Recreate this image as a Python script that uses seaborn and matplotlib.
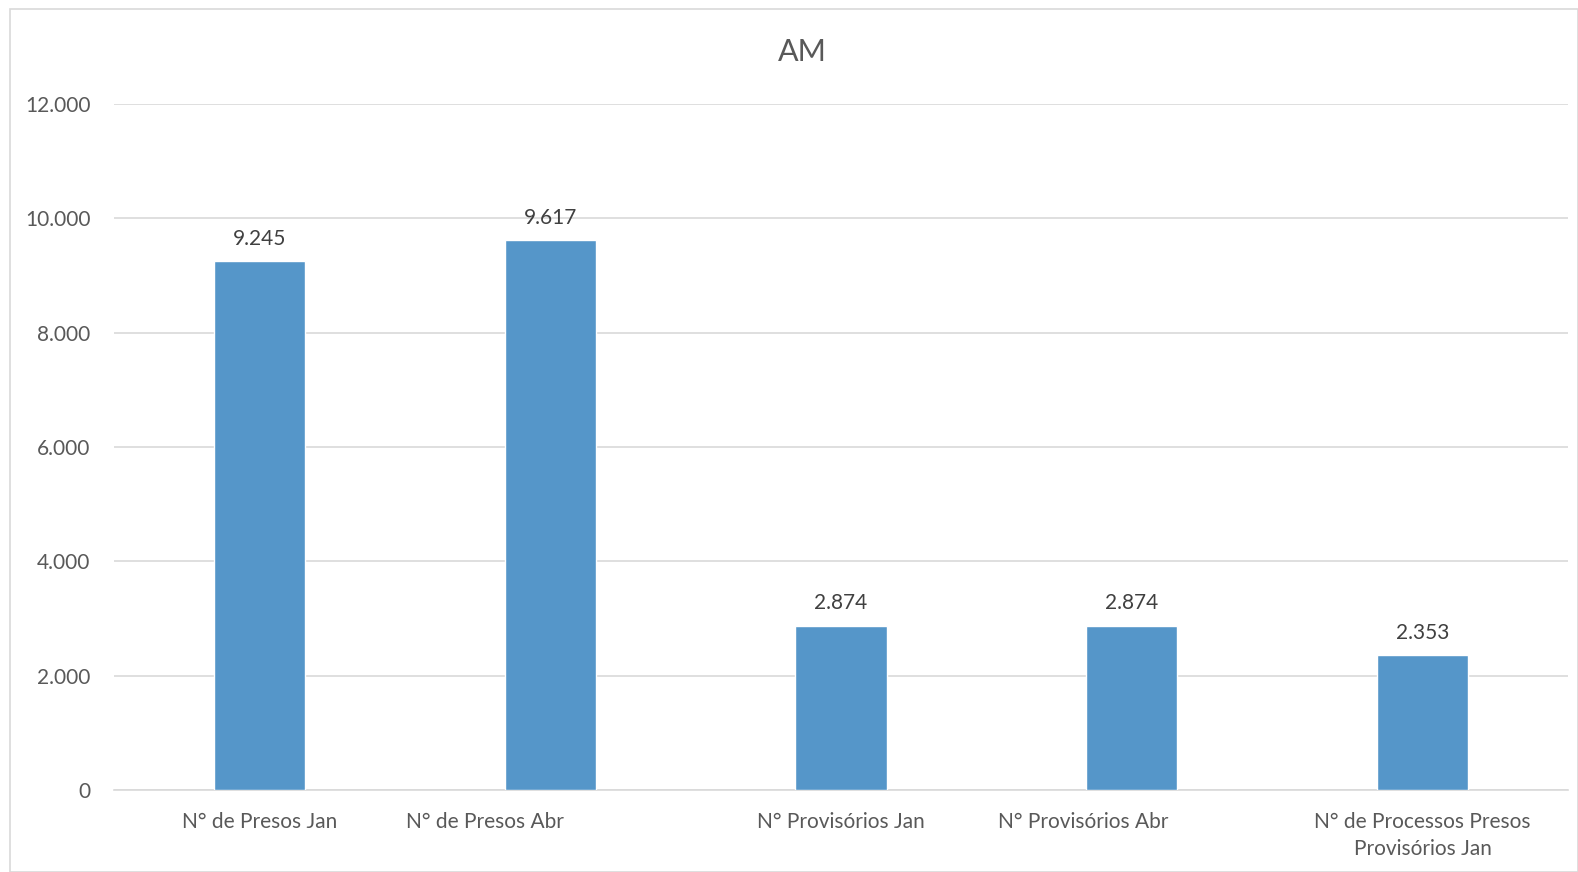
import matplotlib
matplotlib.use("Agg")
import matplotlib.pyplot as plt
import matplotlib.ticker as mticker
import matplotlib.transforms as mtransforms
from matplotlib.patches import Rectangle
import seaborn as sns
import pandas as pd

# chart data
categorias = ["N° de Presos Jan", "N° de Presos Abr", "N° Provisórios Jan",
              "N° Provisórios Abr", "N° de Processos Presos\nProvisórios Jan"]
valores = [9245, 9617, 2874, 2874, 2353]
titulo = "AM"

df = pd.DataFrame({"categoria": categorias, "valor": valores})

sns.set_style("white")
plt.rcParams['font.family'] = ['Lato', 'DejaVu Sans']
cinza = "#595959"

fig = plt.figure(figsize=(15.78, 8.72), dpi=100)
ax = fig.add_axes([114 / 1578, 1 - 790 / 872, 1454 / 1578, 686 / 872])

sns.barplot(data=df, x="categoria", y="valor", color="#5596C9", width=0.313,
            saturation=1, ax=ax, zorder=3)

ax.set_ylim(0, 12000)
ax.set_xlim(-0.5, 4.5)
ax.set_yticks(range(0, 12001, 2000))
ax.yaxis.set_major_formatter(mticker.FuncFormatter(lambda v, p: f"{int(v):,}".replace(",", ".")))
ax.grid(axis="y", color="#D9D9D9", linewidth=1.2, zorder=0)
for s in ["top", "right", "left"]:
    ax.spines[s].set_visible(False)
ax.spines["bottom"].set_color("#D9D9D9")
ax.spines["bottom"].set_linewidth(1.2)
ax.tick_params(axis="both", length=0, labelsize=15, labelcolor=cinza)
ax.tick_params(axis="y", pad=17)
ax.tick_params(axis="x", pad=16)
ax.set_xlabel("")
ax.set_ylabel("")

# the original chart shifts some category labels a bit to the left
desvio = [0, -65, 0, -49, 0]
for lab, dx in zip(ax.get_xticklabels(), desvio):
    lab.set_linespacing(1.45)
    if dx:
        lab.set_transform(lab.get_transform() + mtransforms.ScaledTranslation(dx / 100, 0, fig.dpi_scale_trans))

for p, v in zip(ax.patches, valores):
    ax.annotate(f"{v:,}".replace(",", "."), (p.get_x() + p.get_width() / 2, p.get_height()),
                xytext=(0, 9), textcoords="offset points", ha="center", va="bottom",
                fontsize=15, color="#404040")

fig.text(802 / 1578, 1 - 52 / 872, titulo, ha="center", va="center", fontsize=22, color=cinza)

# chart area border
fig.patches.append(Rectangle((10 / 1578, 0), 1 - 10 / 1578, 1 - 9 / 872,
                             transform=fig.transFigure, fill=False,
                             edgecolor="#D9D9D9", linewidth=1.2))

fig.savefig("out.png", dpi=100)
